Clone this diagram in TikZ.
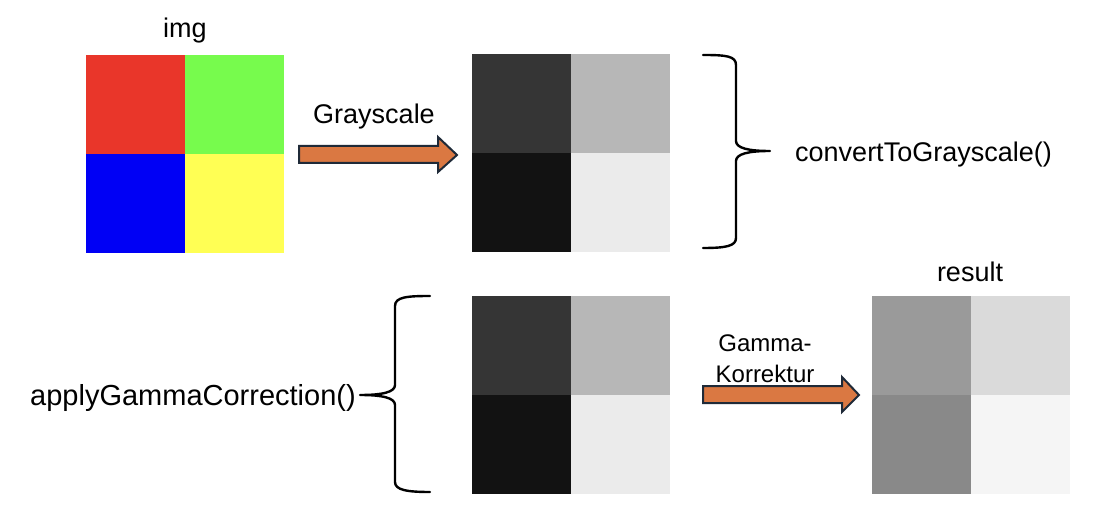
\documentclass[tikz,border=0pt]{standalone}
\usepackage{fontspec}
\setmainfont{Liberation Sans}
\definecolor{cRed}{HTML}{E9362A}
\definecolor{cGreen}{HTML}{77FB4D}
\definecolor{cBlue}{HTML}{0000F5}
\definecolor{cYellow}{HTML}{FFFF54}
\definecolor{gA}{HTML}{353535}
\definecolor{gB}{HTML}{B7B7B7}
\definecolor{gC}{HTML}{121212}
\definecolor{gD}{HTML}{EBEBEB}
\definecolor{rA}{HTML}{9A9A9A}
\definecolor{rB}{HTML}{DADADA}
\definecolor{rC}{HTML}{898989}
\definecolor{rD}{HTML}{F5F5F5}
\definecolor{arrFill}{HTML}{DA7842}
\definecolor{arrLine}{HTML}{1F2A38}
\tikzset{
  sq/.style={minimum width=198, minimum height=198, inner sep=0, outer sep=0},
  lbl/.style={anchor=base, inner sep=0, font=\fontsize{27}{30}\selectfont},
  smalllbl/.style={anchor=base, inner sep=0, font=\fontsize{24}{27}\selectfont},
  blockarrow/.style={fill=arrFill, draw=arrLine, line width=2, line join=miter},
  bracepath/.style={draw=black, line width=2.4, line cap=round, line join=round},
}
\begin{document}
\begin{tikzpicture}[x=1pt, y=-1pt]
\useasboundingbox (0,0) rectangle (1108,518);
% squares
\node[sq] (img) at (185,154) {};
\node[sq] (gray) at (571,153) {};
\node[sq] (gray2) at (571,395) {};
\node[sq] (res) at (970.5,395) {};
% img quadrants
\fill[cRed] (img.north west) rectangle (img.center);
\fill[cGreen] (img.north) rectangle (img.east);
\fill[cBlue] (img.west) rectangle (img.south);
\fill[cYellow] (img.center) rectangle (img.south east);
% gray quadrants
\foreach \n in {gray,gray2}{
  \fill[gA] (\n.north west) rectangle (\n.center);
  \fill[gB] (\n.north) rectangle (\n.east);
  \fill[gC] (\n.west) rectangle (\n.south);
  \fill[gD] (\n.center) rectangle (\n.south east);
}
% result quadrants
\fill[rA] (res.north west) rectangle (res.center);
\fill[rB] (res.north) rectangle (res.east);
\fill[rC] (res.west) rectangle (res.south);
\fill[rD] (res.center) rectangle (res.south east);
% labels
\node[lbl] (limg) at (185,38) {img};
\node[lbl] (lres) at (970,282) {result};
\node[lbl] (lgs) at (374,124) {Grayscale};
\node[lbl] (lconv) at (923.5,162) {convertToGrayscale()};
\node[lbl, font=\fontsize{29}{32}\selectfont] (lapply) at (193,405) {applyGammaCorrection()};
\node[smalllbl] (lgam1) at (765,352) {Gamma-};
\node[smalllbl] (lgam2) at (765,382) {Korrektur};
% block arrows
\draw[blockarrow] (299,146) -- (438,146) -- (438,137) -- (457,155) -- (438,172) -- (438,163) -- (299,163) -- cycle;
\draw[blockarrow] (703,386) -- (842,386) -- (842,377) -- (859,395) -- (842,412) -- (842,403) -- (703,403) -- cycle;
% brace 1 (opening left)
\coordinate (b1tip) at (770,151);
\draw[bracepath] (703,55) .. controls (726,55) and (736,56) .. (736,65) -- (736,141)
  .. controls (736,148) and (748,151) .. (b1tip)
  .. controls (748,151) and (736,154) .. (736,161) -- (736,238)
  .. controls (736,246) and (726,248) .. (703,248);
% brace 2 (opening right)
\coordinate (b2tip) at (360,395);
\draw[bracepath] (430,296) .. controls (407,296) and (395,297) .. (395,306) -- (395,385)
  .. controls (395,392) and (383,395) .. (b2tip)
  .. controls (383,395) and (395,398) .. (395,405) -- (395,482)
  .. controls (395,490) and (407,492) .. (430,492);
\end{tikzpicture}
\end{document}
